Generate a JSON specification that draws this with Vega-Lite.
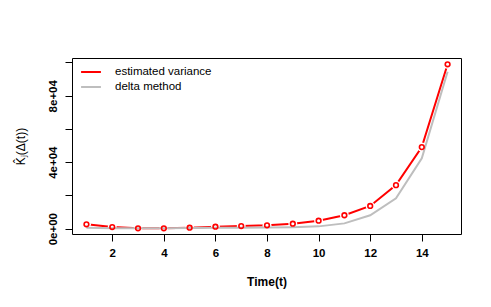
{
  "$schema": "https://vega.github.io/schema/vega-lite/v6.json",
  "width": 389,
  "height": 176,
  "autosize": "none",
  "padding": {"left": 72, "top": 58, "right": 30, "bottom": 73},
  "background": "white",
  "config": {
    "font": "Liberation Sans",
    "view": {"stroke": "black", "strokeWidth": 1},
    "axis": {"grid": false, "domain": false, "tickColor": "black", "tickSize": 7, "tickWidth": 1, "labelColor": "black", "titleColor": "black", "labelFont": "Liberation Sans", "titleFont": "Liberation Sans"}
  },
  "data": {"values": [
    {"t": 1, "value": 2650, "series": "estimated variance"},
    {"t": 2, "value": 1000, "series": "estimated variance"},
    {"t": 3, "value": 250, "series": "estimated variance"},
    {"t": 4, "value": 250, "series": "estimated variance"},
    {"t": 5, "value": 600, "series": "estimated variance"},
    {"t": 6, "value": 1200, "series": "estimated variance"},
    {"t": 7, "value": 1600, "series": "estimated variance"},
    {"t": 8, "value": 2050, "series": "estimated variance"},
    {"t": 9, "value": 3000, "series": "estimated variance"},
    {"t": 10, "value": 4800, "series": "estimated variance"},
    {"t": 11, "value": 8100, "series": "estimated variance"},
    {"t": 12, "value": 13700, "series": "estimated variance"},
    {"t": 13, "value": 26200, "series": "estimated variance"},
    {"t": 14, "value": 49100, "series": "estimated variance"},
    {"t": 15, "value": 98900, "series": "estimated variance"},
    {"t": 1, "value": 500, "series": "delta method"},
    {"t": 2, "value": 300, "series": "delta method"},
    {"t": 3, "value": 300, "series": "delta method"},
    {"t": 4, "value": 300, "series": "delta method"},
    {"t": 5, "value": 400, "series": "delta method"},
    {"t": 6, "value": 500, "series": "delta method"},
    {"t": 7, "value": 600, "series": "delta method"},
    {"t": 8, "value": 700, "series": "delta method"},
    {"t": 9, "value": 900, "series": "delta method"},
    {"t": 10, "value": 1400, "series": "delta method"},
    {"t": 11, "value": 3200, "series": "delta method"},
    {"t": 12, "value": 8100, "series": "delta method"},
    {"t": 13, "value": 18300, "series": "delta method"},
    {"t": 14, "value": 42300, "series": "delta method"},
    {"t": 15, "value": 94400, "series": "delta method"}
  ]},
  "encoding": {
    "x": {"field": "t", "type": "quantitative",
      "scale": {"domain": [0.44, 15.52], "nice": false, "zero": false},
      "axis": {"values": [2, 4, 6, 8, 10, 12, 14], "labelFontWeight": "bold", "labelFontSize": 11.5, "labelPadding": 6,
        "title": "Time(t)", "titleFontWeight": "bold", "titleFontSize": 12, "titleX": 194.5, "titleY": 47, "titleBaseline": "middle", "titleAlign": "center"}},
    "y": {"field": "value", "type": "quantitative",
      "scale": {"domain": [-3190, 102700], "nice": false, "zero": false},
      "axis": {"values": [0, 20000, 40000, 60000, 80000, 100000],
        "labelExpr": "datum.value == 0 ? '0e+00' : datum.value == 40000 ? '4e+04' : datum.value == 80000 ? '8e+04' : ''",
        "labelAngle": 270, "labelAlign": "center", "labelBaseline": "bottom", "labelPadding": 7,
        "labelFontWeight": "bold", "labelFontSize": 11.5,
        "title": "K̂ⱼ(Δ(t))", "titleFontWeight": "normal", "titleFontSize": 12, "titleAngle": 270,
        "titleX": -52, "titleY": 88, "titleAlign": "center", "titleBaseline": "middle"}}
  },
  "layer": [
    {
      "transform": [{"filter": "datum.series == 'estimated variance'"}],
      "mark": {"type": "line", "strokeWidth": 2},
      "encoding": {"color": {"field": "series", "type": "nominal",
        "scale": {"domain": ["estimated variance", "delta method"], "range": ["#ff0000", "#bebebe"]},
        "legend": {"title": null, "orient": "none", "legendX": 10, "legendY": 5, "symbolType": "M-1.24,0H1.24", "symbolSize": 256, "symbolStrokeWidth": 2,
          "labelFontSize": 11.5, "labelFont": "Liberation Sans", "labelColor": "black", "labelOffset": 15, "rowPadding": 0}}}
    },
    {
      "transform": [{"filter": "datum.series == 'estimated variance'"}],
      "mark": {"type": "point", "shape": "circle", "filled": true, "color": "white", "size": 80, "opacity": 1}
    },
    {
      "transform": [{"filter": "datum.series == 'delta method'"}],
      "mark": {"type": "line", "strokeWidth": 2},
      "encoding": {"color": {"field": "series", "type": "nominal"}}
    },
    {
      "transform": [{"filter": "datum.series == 'estimated variance'"}],
      "mark": {"type": "point", "shape": "circle", "filled": false, "color": "#ff0000", "strokeWidth": 1.6, "size": 22, "opacity": 1}
    }
  ]
}
